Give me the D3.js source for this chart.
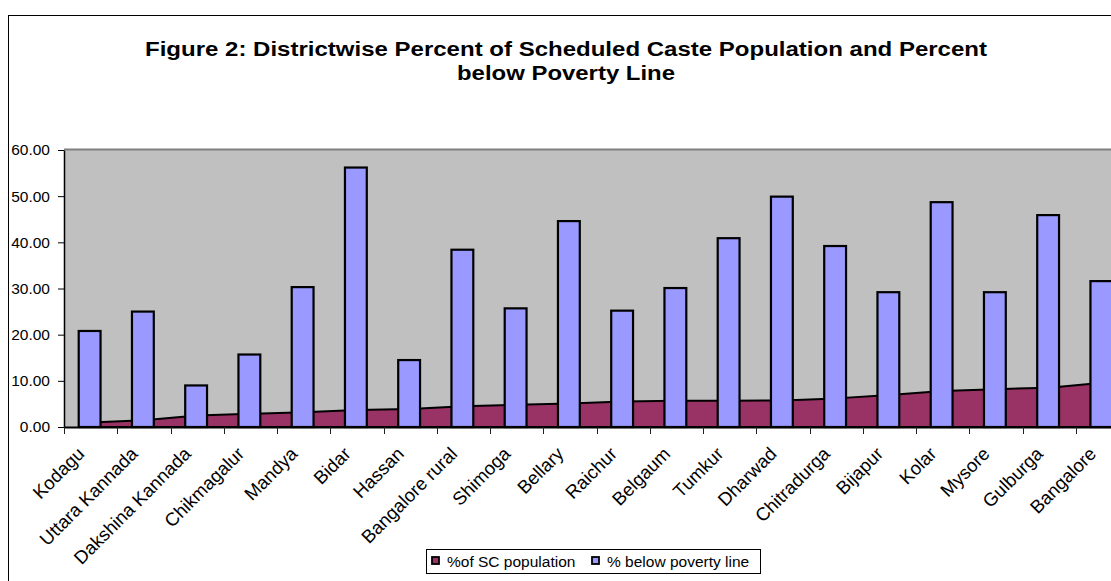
<!DOCTYPE html>
<html>
<head>
<meta charset="utf-8">
<script src="https://cdn.jsdelivr.net/npm/d3@7"></script>
<style>
  html, body { margin: 0; padding: 0; background: #fff; }
  svg { display: block; font-family: "Liberation Sans", Arial, sans-serif; }
</style>
</head>
<body>
<svg id="chart" width="1111" height="581"></svg>
<script>
// Districts of Karnataka, ordered by share of Scheduled Caste population
const districts = ["Kodagu", "Uttara Kannada", "Dakshina Kannada", "Chikmagalur", "Mandya",
  "Bidar", "Hassan", "Bangalore rural", "Shimoga", "Bellary", "Raichur", "Belgaum",
  "Tumkur", "Dharwad", "Chitradurga", "Bijapur", "Kolar", "Mysore", "Gulburga", "Bangalore"];

// % of SC population (area series)
const scPopulation = [1.0, 1.45, 2.5, 2.85, 3.2, 3.7, 3.9, 4.5, 4.8, 5.1,
  5.5, 5.7, 5.7, 5.75, 6.2, 6.95, 7.8, 8.2, 8.5, 9.6];

// % below poverty line (bar series)
const belowPoverty = [20.8, 25.0, 9.0, 15.7, 30.3, 56.2, 14.5, 38.4, 25.7, 44.6,
  25.2, 30.1, 40.9, 49.9, 39.2, 29.2, 48.7, 29.2, 45.9, 31.6];

const yTicks = [0, 10, 20, 30, 40, 50, 60];
const seriesNames = ["%of SC population", "% below poverty line"];
const seriesColors = ["#993366", "#9999FF"];

const svg = d3.select("#chart");

// outer chart frame
svg.append("rect")
  .attr("x", 8.5).attr("y", 15.5)
  .attr("width", 1130).attr("height", 600)
  .attr("fill", "#fff").attr("stroke", "#000").attr("stroke-width", 1);

// title, two centred lines
const titleLines = [
  { text: "Figure 2: Districtwise Percent of Scheduled Caste Population and Percent", y: 56, w: 842 },
  { text: "below Poverty Line", y: 79.5, w: 218 }
];
svg.append("g").selectAll("text")
  .data(titleLines)
  .join("text")
  .attr("x", 566).attr("y", d => d.y)
  .attr("text-anchor", "middle")
  .attr("font-weight", "bold")
  .attr("font-size", 20)
  .attr("textLength", d => d.w)
  .attr("lengthAdjust", "spacingAndGlyphs")
  .attr("fill", "#000")
  .text(d => d.text);

const plot = { left: 64, right: 1129, top: 150, bottom: 427 };

const x = d3.scaleBand().domain(districts).range([plot.left, plot.right]).padding(0);
const y = d3.scaleLinear().domain([0, 60]).range([plot.bottom, plot.top]);

// plot background
svg.append("rect")
  .attr("x", plot.left).attr("y", plot.top)
  .attr("width", plot.right - plot.left).attr("height", plot.bottom - plot.top)
  .attr("fill", "#C0C0C0");
svg.append("line")
  .attr("x1", plot.left).attr("x2", plot.right)
  .attr("y1", plot.top - 0.5).attr("y2", plot.top - 0.5)
  .attr("stroke", "#808080").attr("stroke-width", 2);

const cx = d => x(d) + x.bandwidth() / 2;

// SC population area
const area = d3.area()
  .x((d, i) => cx(districts[i]))
  .y0(y(0))
  .y1(d => y(d));
svg.append("path")
  .datum(scPopulation)
  .attr("d", area)
  .attr("fill", seriesColors[0])
  .attr("stroke", "#000")
  .attr("stroke-width", 2)
  .attr("stroke-linejoin", "round");

// poverty bars
const barW = x.bandwidth() * 0.41;
svg.append("g").selectAll("rect")
  .data(belowPoverty)
  .join("rect")
  .attr("x", (d, i) => cx(districts[i]) - barW / 2 - 1)
  .attr("y", d => y(d))
  .attr("width", barW)
  .attr("height", d => y(0) - y(d))
  .attr("fill", seriesColors[1])
  .attr("stroke", "#000")
  .attr("stroke-width", 2.2);

// y axis
const yAxis = svg.append("g")
  .attr("transform", `translate(${plot.left},0)`)
  .call(d3.axisLeft(y).tickValues(yTicks).tickFormat(d3.format(".2f")).tickSize(6).tickSizeOuter(0));
yAxis.select(".domain").attr("stroke", "#000").attr("stroke-width", 1.5);
yAxis.selectAll(".tick line").attr("stroke", "#000");
yAxis.selectAll(".tick text")
  .attr("font-family", "'Liberation Sans', Arial, sans-serif")
  .attr("font-size", 15.5).attr("fill", "#000").attr("x", -14);

// x axis: ticks sit on category boundaries
const boundaries = districts.map(d => x(d)).concat([plot.right]);
svg.append("line")
  .attr("x1", plot.left).attr("x2", plot.right)
  .attr("y1", plot.bottom + 0.5).attr("y2", plot.bottom + 0.5)
  .attr("stroke", "#000").attr("stroke-width", 2);
svg.append("g").selectAll("line")
  .data(boundaries)
  .join("line")
  .attr("x1", d => Math.round(d) + 0.5).attr("x2", d => Math.round(d) + 0.5)
  .attr("y1", plot.bottom).attr("y2", plot.bottom + 7)
  .attr("stroke", "#222").attr("stroke-width", 1);

// rotated category labels
svg.append("g").selectAll("text")
  .data(districts)
  .join("text")
  .attr("transform", d => `translate(${cx(d) - 5},${plot.bottom + 28}) rotate(-45)`)
  .attr("text-anchor", "end")
  .attr("font-size", 18.5)
  .attr("fill", "#000")
  .text(d => d);

// legend
const legend = svg.append("g").attr("transform", "translate(426,549)");
legend.append("rect")
  .attr("x", 0.5).attr("y", 0.5).attr("width", 334).attr("height", 24)
  .attr("fill", "#fff").attr("stroke", "#000").attr("stroke-width", 1);
const legendX = [6, 166];
seriesNames.forEach((name, i) => {
  legend.append("rect")
    .attr("x", legendX[i]).attr("y", 8)
    .attr("width", 7).attr("height", 7)
    .attr("fill", seriesColors[i]).attr("stroke", "#000").attr("stroke-width", 1.8);
  legend.append("text")
    .attr("x", legendX[i] + 15).attr("y", 17.5)
    .attr("font-size", 15.5).attr("fill", "#000")
    .text(name);
});
</script>
</body>
</html>
